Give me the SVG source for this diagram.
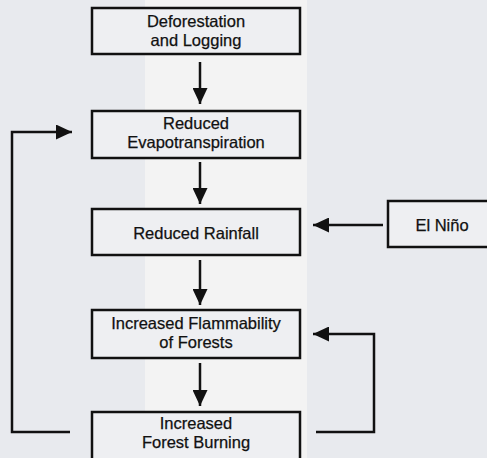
<svg xmlns="http://www.w3.org/2000/svg" width="487" height="458" viewBox="0 0 487 458">
<defs>
<style>
.box{fill:#eeeff2;stroke:#111;stroke-width:2.5}
.t{font-family:"Liberation Sans",Arial,sans-serif;font-size:16.5px;fill:#111;text-anchor:middle;stroke:#111;stroke-width:0.25}
.c{fill:none;stroke:#111;stroke-width:2.5}
</style>
<marker id="ah" markerUnits="userSpaceOnUse" markerWidth="16" markerHeight="15" viewBox="0 0 16 15" refX="16" refY="7.5" orient="auto">
<path d="M0,0 L16,7.5 L0,15 Z" fill="#111"/>
</marker>
</defs>
<rect width="487" height="458" fill="#e8eaee"/>
<rect x="145" y="0" width="162" height="458" fill="#f3f3f3"/>
<g id="connectors">
<line class="c" x1="200" y1="62" x2="200" y2="104" marker-end="url(#ah)"/>
<line class="c" x1="200" y1="162" x2="200" y2="204" marker-end="url(#ah)"/>
<line class="c" x1="200" y1="260" x2="200" y2="305" marker-end="url(#ah)"/>
<line class="c" x1="200" y1="363" x2="200" y2="406" marker-end="url(#ah)"/>
<line class="c" x1="383" y1="225" x2="313" y2="225" marker-end="url(#ah)"/>
<polyline class="c" points="70,432 12,432 12,132 72,132" marker-end="url(#ah)"/>
<polyline class="c" points="316,432 374,432 374,334 313,334" marker-end="url(#ah)"/>
</g>
<g id="n1"><rect class="box" x="92" y="8" width="208" height="46"/><text class="t" x="196" y="27">Deforestation</text><text class="t" x="196" y="46">and Logging</text></g>
<g id="n2"><rect class="box" x="92" y="111" width="208" height="47"/><text class="t" x="196" y="129">Reduced</text><text class="t" x="196" y="148">Evapotranspiration</text></g>
<g id="n3"><rect class="box" x="92" y="209" width="208" height="46"/><text class="t" x="196" y="239">Reduced Rainfall</text></g>
<g id="n4"><rect class="box" x="92" y="310" width="208" height="48"/><text class="t" x="196" y="329">Increased Flammability</text><text class="t" x="196" y="348">of Forests</text></g>
<g id="n5"><rect class="box" x="92" y="412" width="208" height="50"/><text class="t" x="196" y="429">Increased</text><text class="t" x="196" y="448">Forest Burning</text></g>
<g id="n6"><rect class="box" x="388" y="201" width="104" height="46"/><text class="t" x="442" y="231">El Niño</text></g>
</svg>
